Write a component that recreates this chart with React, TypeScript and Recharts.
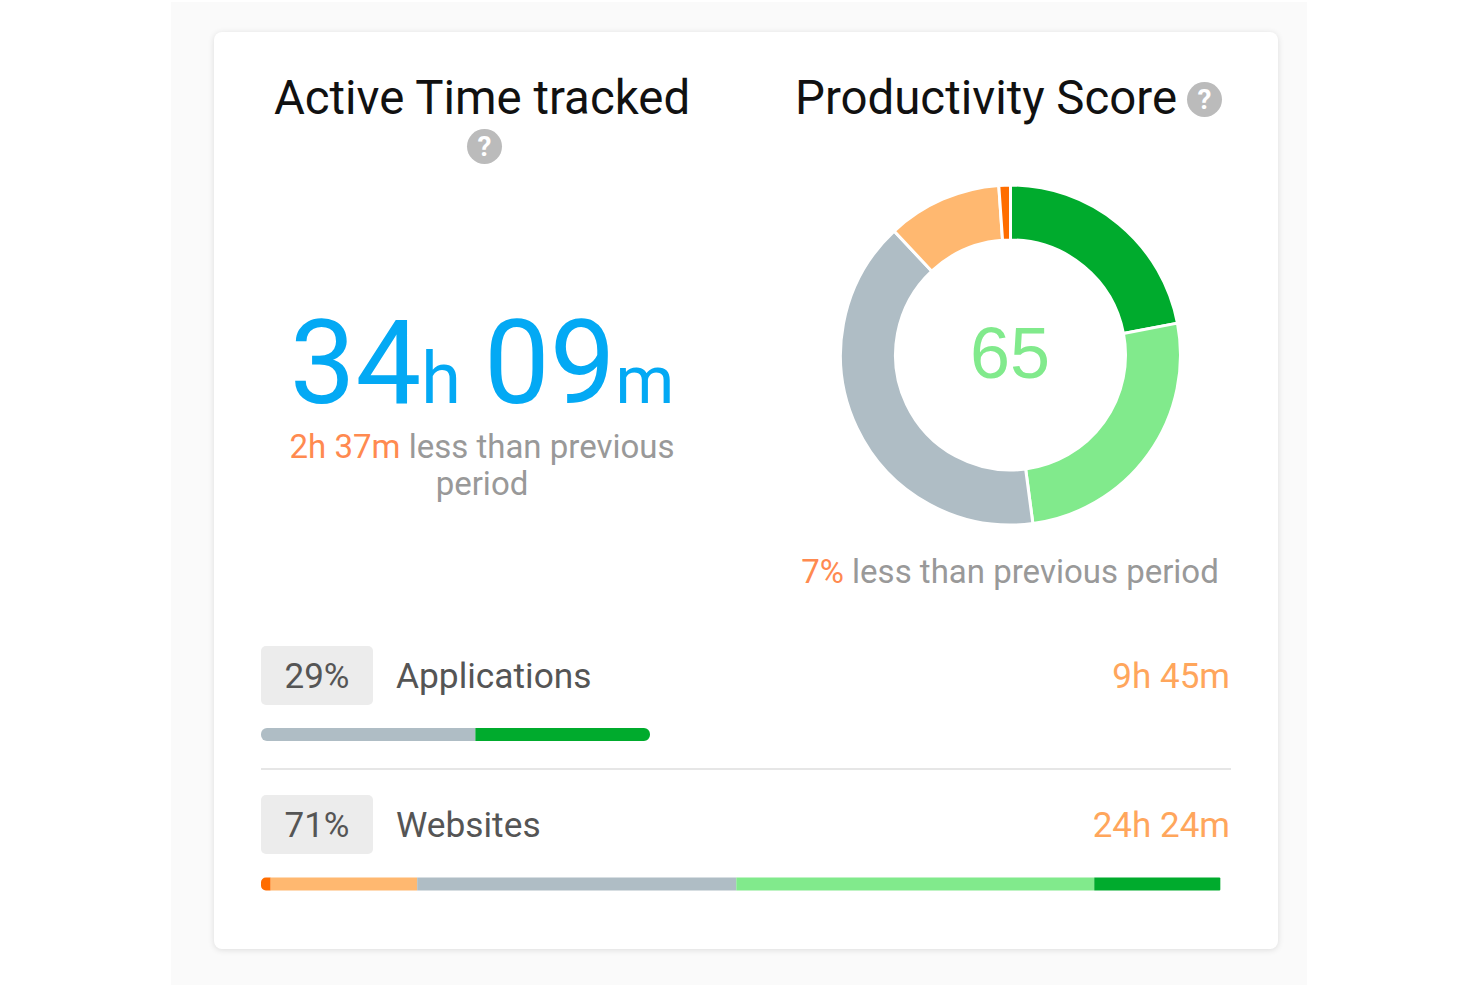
import { BarChart, Bar, XAxis, YAxis, Cell, PieChart, Pie } from 'recharts'

const scoreNames = ['Very productive', 'Productive', 'Neutral', 'Unproductive', 'Very unproductive']
const scoreValues = [22.0, 25.9, 40.1, 10.9, 1.1]
const scoreColors = ['#00AB2D', '#81EA8C', '#AFBDC5', '#FFB870', '#FF6D00']

const rows = ['Applications', 'Websites']
const rowShares = ['29%', '71%']
const rowTimes = ['9h 45m', '24h 24m']
const veryUnproductive = [0, 1.0]
const unproductive = [0, 15.1]
const neutral = [22.1, 32.9]
const productive = [0, 36.9]
const veryProductive = [18.0, 13.0]

const barData = rows.map((name, i) => ({
  name,
  veryUnproductive: veryUnproductive[i],
  unproductive: unproductive[i],
  neutral: neutral[i],
  productive: productive[i],
  veryProductive: veryProductive[i],
}))

const font = 'Roboto, sans-serif'

function Help({ x, y }: { x: number; y: number }) {
  return (
    <div style={{
      position: 'absolute', left: x, top: y, width: 35, height: 35, borderRadius: '50%', background: '#BBBBBB',
      color: '#fff', fontSize: 28, fontWeight: 700, lineHeight: '35px', textAlign: 'center',
    }}>?</div>
  )
}

function Row({ i, top }: { i: number; top: number }) {
  return (
    <>
      <div style={{
        position: 'absolute', left: 261, top, width: 112, height: 59, background: '#ECECEC', borderRadius: 5,
        fontSize: 35, lineHeight: '61px', textAlign: 'center', color: '#555',
      }}>{rowShares[i]}</div>
      <div style={{ position: 'absolute', left: 396, top, fontSize: 35.3, lineHeight: '61px', color: '#555' }}>{rows[i]}</div>
      <div style={{ position: 'absolute', right: 250, top, fontSize: 35, lineHeight: '61px', color: '#FFA65C' }}>{rowTimes[i]}</div>
    </>
  )
}

export default function App() {
  return (
    <div style={{ position: 'absolute', left: 0, top: 0, width: 1480, height: 987, background: '#fff', overflow: 'hidden', fontFamily: font }}>
      <div style={{ position: 'absolute', left: 171, top: 2, width: 1136, height: 983, background: '#FAFAFA' }} />
      <div style={{
        position: 'absolute', left: 214, top: 32, width: 1064, height: 917, background: '#fff', borderRadius: 8,
        boxShadow: '0 1px 6px rgba(0,0,0,0.12)',
      }} />

      {/* Titles */}
      <div style={{ position: 'absolute', left: 182, width: 600, top: 69, textAlign: 'center', fontSize: 47.4, lineHeight: '58px', color: '#111' }}>
        Active Time tracked
      </div>
      <Help x={467} y={129} />
      <div style={{ position: 'absolute', left: 795, top: 69, fontSize: 47.4, lineHeight: '58px', color: '#111', whiteSpace: 'nowrap' }}>
        Productivity Score
      </div>
      <Help x={1187} y={82} />

      {/* Active time */}
      <div style={{ position: 'absolute', left: 182, width: 600, top: 303, textAlign: 'center', color: '#03A9F4', fontSize: 117, lineHeight: '120px', whiteSpace: 'nowrap', wordSpacing: -6 }}>
        34<span style={{ fontSize: 72 }}>h</span> 09<span style={{ fontSize: 67 }}>m</span>
      </div>
      <div style={{ position: 'absolute', left: 282, width: 400, top: 428, textAlign: 'center', fontSize: 33, lineHeight: '37px', color: '#999' }}>
        <span style={{ color: '#FF8A50' }}>2h 37m</span> less than previous period
      </div>

      {/* Score donut */}
      <div style={{ position: 'absolute', left: 830, top: 175 }}>
        <PieChart width={360} height={360} margin={{ top: 0, right: 0, bottom: 0, left: 0 }}>
          <Pie
            data={scoreNames.map((name, i) => ({ name, value: scoreValues[i] }))}
            dataKey="value"
            cx={180.5}
            cy={180}
            innerRadius={115}
            outerRadius={170}
            startAngle={90}
            endAngle={-270}
            stroke="#fff"
            strokeWidth={3}
            isAnimationActive={false}
          >
            {scoreValues.map((_, i) => <Cell key={i} fill={scoreColors[i]} />)}
          </Pie>
        </PieChart>
      </div>
      <div style={{ position: 'absolute', left: 910, width: 200, top: 310, textAlign: 'center', fontFamily: '"Liberation Sans", sans-serif', fontSize: 72, lineHeight: '86px', color: '#81EA8C' }}>65</div>
      <div style={{ position: 'absolute', left: 760, width: 500, top: 553, textAlign: 'center', fontSize: 33, lineHeight: '37px', color: '#999', whiteSpace: 'nowrap' }}>
        <span style={{ color: '#FF8A50' }}>7%</span> less than previous period
      </div>

      {/* Breakdown rows */}
      <Row i={0} top={646} />
      <div style={{ position: 'absolute', left: 261, top: 768, width: 970, height: 1.5, background: '#E6E6E6' }} />
      <Row i={1} top={795} />

      <div style={{ position: 'absolute', left: 261, top: 660 }}>
        <BarChart
          width={970}
          height={299}
          layout="vertical"
          data={barData}
          margin={{ top: 0, right: 0, bottom: 0, left: 0 }}
          barSize={13}
        >
          <XAxis type="number" domain={[0, 100]} hide />
          <YAxis type="category" dataKey="name" hide />
          <Bar dataKey="veryUnproductive" stackId="a" fill="#FF6D00" radius={[6, 0, 0, 6]} isAnimationActive={false} />
          <Bar dataKey="unproductive" stackId="a" fill="#FFB870" isAnimationActive={false} />
          <Bar dataKey="neutral" stackId="a" fill="#AFBDC5" isAnimationActive={false}>
            <Cell fill="#AFBDC5" radius={[6, 0, 0, 6] as any} />
            <Cell fill="#AFBDC5" />
          </Bar>
          <Bar dataKey="productive" stackId="a" fill="#81EA8C" isAnimationActive={false} />
          <Bar dataKey="veryProductive" stackId="a" fill="#00AB2D" isAnimationActive={false}>
            <Cell fill="#00AB2D" radius={[0, 6, 6, 0] as any} />
            <Cell fill="#00AB2D" radius={[0, 1, 1, 0] as any} />
          </Bar>
        </BarChart>
      </div>
    </div>
  )
}
